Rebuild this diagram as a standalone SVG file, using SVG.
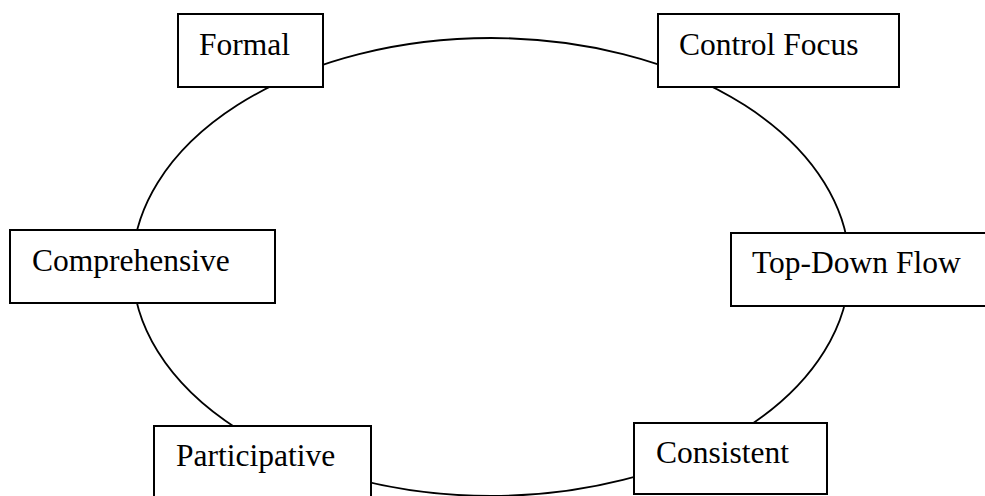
<svg xmlns="http://www.w3.org/2000/svg" width="985" height="496" viewBox="0 0 985 496">
  <style>
    .box { fill: #ffffff; stroke: #000000; stroke-width: 2; }
    .ring { fill: none; stroke: #000000; stroke-width: 1.8; }
    .label { font-family: 'Liberation Serif', 'Times New Roman', 'DejaVu Serif', serif; font-size: 31.5px; fill: #000000; }
  </style>
  <rect width="985" height="496" fill="#ffffff"/>
  <!-- connecting cycle behind the boxes -->
  <g id="connectors">
    <ellipse class="ring" cx="491" cy="267" rx="358.5" ry="229"/>
  </g>
  <g id="formal">
    <rect class="box" x="178" y="14" width="145" height="73"/>
    <text class="label" font-family="Liberation Serif, serif" x="199" y="55">Formal</text>
  </g>
  <g id="control-focus">
    <rect class="box" x="658" y="14" width="241" height="73"/>
    <text class="label" font-family="Liberation Serif, serif" x="679" y="55">Control Focus</text>
  </g>
  <g id="comprehensive">
    <rect class="box" x="10" y="230" width="265" height="73"/>
    <text class="label" font-family="Liberation Serif, serif" x="32" y="271">Comprehensive</text>
  </g>
  <g id="top-down-flow">
    <rect class="box" x="731" y="233" width="262" height="73"/>
    <text class="label" font-family="Liberation Serif, serif" x="752" y="273">Top-Down Flow</text>
  </g>
  <g id="participative">
    <rect class="box" x="154" y="426" width="217" height="80"/>
    <text class="label" font-family="Liberation Serif, serif" x="176" y="466">Participative</text>
  </g>
  <g id="consistent">
    <rect class="box" x="634" y="423" width="193" height="71"/>
    <text class="label" font-family="Liberation Serif, serif" x="656" y="463">Consistent</text>
  </g>
</svg>
